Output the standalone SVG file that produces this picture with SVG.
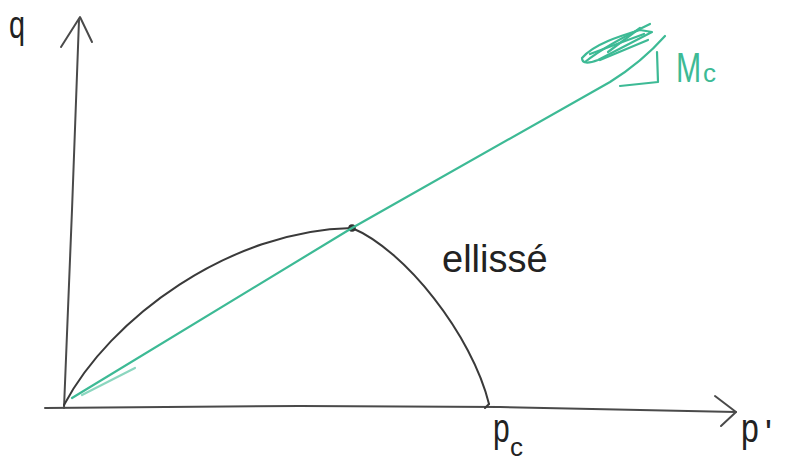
<svg xmlns="http://www.w3.org/2000/svg" width="788" height="465" viewBox="0 0 788 465">
<style>
.ax{fill:none;stroke:#4a4a4a;stroke-width:2;stroke-linecap:round;stroke-linejoin:round}
.blk{fill:none;stroke:#3a3a3a;stroke-width:2;stroke-linecap:round}
.grn{fill:none;stroke:#3dba95;stroke-width:2.2;stroke-linecap:round;stroke-linejoin:round}
.lbl{font-family:"Liberation Sans",Arial,sans-serif;fill:#222}
.glbl{font-family:"Liberation Sans",Arial,sans-serif;fill:#3dba95}
</style>
<rect width="788" height="465" fill="#fff"/>
<g id="axes">
  <path class="ax" d="M64,408 L72,210 L79,20"/>
  <path class="ax" d="M61,47 L80,17 L92,42"/>
  <path class="ax" d="M45,408 L300,406 L500,407 L736,412"/>
  <path class="ax" d="M715,396 L736,412 L721,426"/>
</g>
<g id="ellipse">
  <path class="blk" d="M64,405 C110,318 230,230 352,228 C405,250 472,335 489,404"/>
  <path class="blk" d="M489,404 L485,408"/>
  <circle cx="352" cy="228" r="3.8" fill="#333"/>
</g>
<g id="csl">
  <path class="grn" d="M72,398 L352,228 L610,82 Q642,62 665,36"/>
  <path class="grn" d="M82,395 L135,368" stroke-width="1.2" opacity="0.6"/>
  <path class="grn" d="M620,86 L658,82 L657,52"/>
  <path class="grn" d="M585,62 C600,50 625,36 650,24"/>
  <path class="grn" d="M582,58 C594,44 620,36 640,30 L652,32 L598,60 Q582,66 582,58 Z"/>
  <path class="grn" d="M590,54 L644,34"/>
  <path class="grn" d="M600,60 L648,40"/>
  <path class="grn" d="M608,52 L640,28"/>
</g>
<g id="labels">
  <text class="lbl" transform="translate(9,38) scale(0.8,1.1)" font-size="36">q</text>
  <text class="lbl" x="442" y="272" font-size="38">ellissé</text>
  <text class="lbl" transform="translate(493,442) scale(0.75,1)" font-size="40">p</text>
  <text class="lbl" x="510" y="456" font-size="26">c</text>
  <text class="lbl" transform="translate(741,442) scale(0.8,1)" font-size="40">p</text>
  <text class="lbl" x="765" y="446" font-size="36">'</text>
  <text class="glbl" transform="translate(676,82) scale(0.72,1)" font-size="42">M</text>
  <text class="glbl" x="703" y="82" font-size="26">c</text>
</g>
</svg>
